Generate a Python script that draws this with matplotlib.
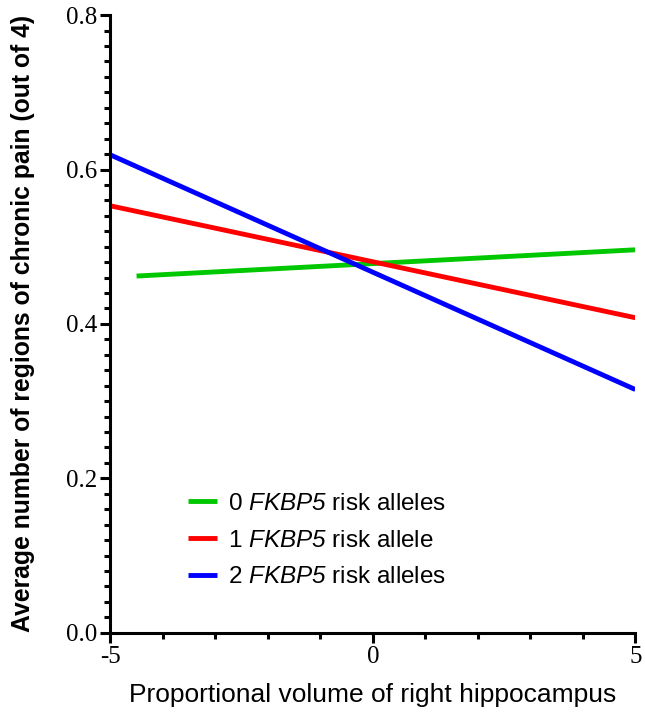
import matplotlib
matplotlib.use("Agg")
import matplotlib.pyplot as plt
from matplotlib.ticker import MultipleLocator

# fitted lines: x start/end and y start/end
labels = [r"0 $\it{FKBP5}$ risk alleles",
          r"1 $\it{FKBP5}$ risk allele",
          r"2 $\it{FKBP5}$ risk alleles"]
colors = ["#00c800", "#ff0000", "#0000ff"]
x_start = [-4.5, -5.0, -5.0]
x_end = [5.0, 5.0, 5.0]
y_start = [0.462, 0.553, 0.619]
y_end = [0.496, 0.408, 0.315]

plt.rcParams["mathtext.fontset"] = "custom"
plt.rcParams["mathtext.it"] = "Liberation Sans:italic"
plt.rcParams["mathtext.rm"] = "Liberation Sans:italic"
plt.rcParams["axes.unicode_minus"] = False

fig = plt.figure(figsize=(6.45, 7.19), dpi=100)
ax = fig.add_axes([0.171, 0.12, 0.814, 0.859])

for lab, c, x0, x1, y0, y1 in zip(labels, colors, x_start, x_end, y_start, y_end):
    ax.plot([x0, x1], [y0, y1], color=c, lw=3.5, label=lab, solid_capstyle="butt")

ax.set_xlim(-5, 5)
ax.set_ylim(0, 0.8)
ax.set_xticks([-5, 0, 5])
ax.set_xticklabels(["-5", "0", "5"])
ax.set_yticks([0.0, 0.2, 0.4, 0.6, 0.8])
ax.set_yticklabels(["0.0", "0.2", "0.4", "0.6", "0.8"])
ax.xaxis.set_minor_locator(MultipleLocator(1))
ax.yaxis.set_minor_locator(MultipleLocator(0.02))

for s in ["top", "right"]:
    ax.spines[s].set_visible(False)
for s in ["left", "bottom"]:
    ax.spines[s].set_linewidth(2.2)

ax.tick_params(which="major", length=7.5, width=2.2, direction="out", pad=2)
ax.tick_params(which="minor", length=4, width=2.2, direction="out")
for t in ax.get_xticklabels() + ax.get_yticklabels():
    t.set_family("Liberation Serif")
    t.set_fontsize(18)

ax.set_xlabel("Proportional volume of right hippocampus",
              family="Liberation Sans", fontsize=19, labelpad=11)
ax.set_ylabel("Average number of regions of chronic pain (out of 4)",
              family="Liberation Sans", fontsize=17.8, fontweight="bold", labelpad=22)

leg = ax.legend(loc="upper left", bbox_to_anchor=(0.13, 0.242), frameon=False,
                prop={"family": "Liberation Sans", "size": 17.5},
                handlelength=1.2, labelspacing=0.6, handletextpad=0.45,
                borderaxespad=0)

fig.savefig("out.png", dpi=100)
